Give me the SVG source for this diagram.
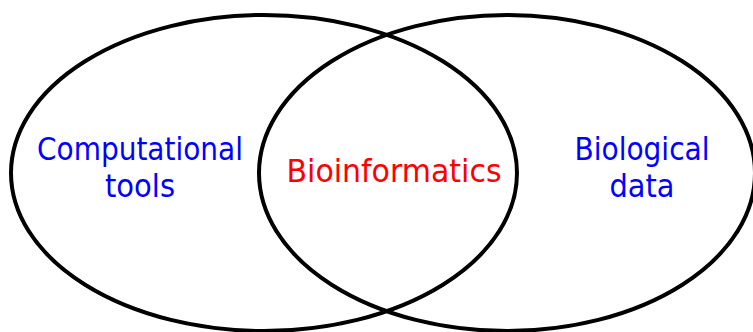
<svg xmlns="http://www.w3.org/2000/svg" width="753" height="332" viewBox="0 0 753 332">
<style>
.set{fill:none;stroke:#000;stroke-width:4}
.lbl{font-family:"Comic Sans MS","DejaVu Sans",sans-serif;font-size:32px;text-anchor:middle}
.blue{fill:#0000ff}
.red{fill:#ff0000}
</style>
<rect width="753" height="332" fill="#fff"/>
<g id="computational">
<ellipse class="set" cx="264" cy="173" rx="253" ry="158"/>
<text class="lbl blue" x="140" y="160" textLength="206" lengthAdjust="spacingAndGlyphs">Computational</text>
<text class="lbl blue" x="140" y="197" textLength="70" lengthAdjust="spacingAndGlyphs">tools</text>
</g>
<g id="biological">
<ellipse class="set" cx="507" cy="173" rx="248" ry="158"/>
<text class="lbl blue" x="642" y="160" textLength="135" lengthAdjust="spacingAndGlyphs">Biological</text>
<text class="lbl blue" x="642" y="197" textLength="65" lengthAdjust="spacingAndGlyphs">data</text>
</g>
<g id="bioinformatics">
<text class="lbl red" x="394" y="182" textLength="215" lengthAdjust="spacingAndGlyphs">Bioinformatics</text>
</g>
<g id="connectors"></g>
</svg>
